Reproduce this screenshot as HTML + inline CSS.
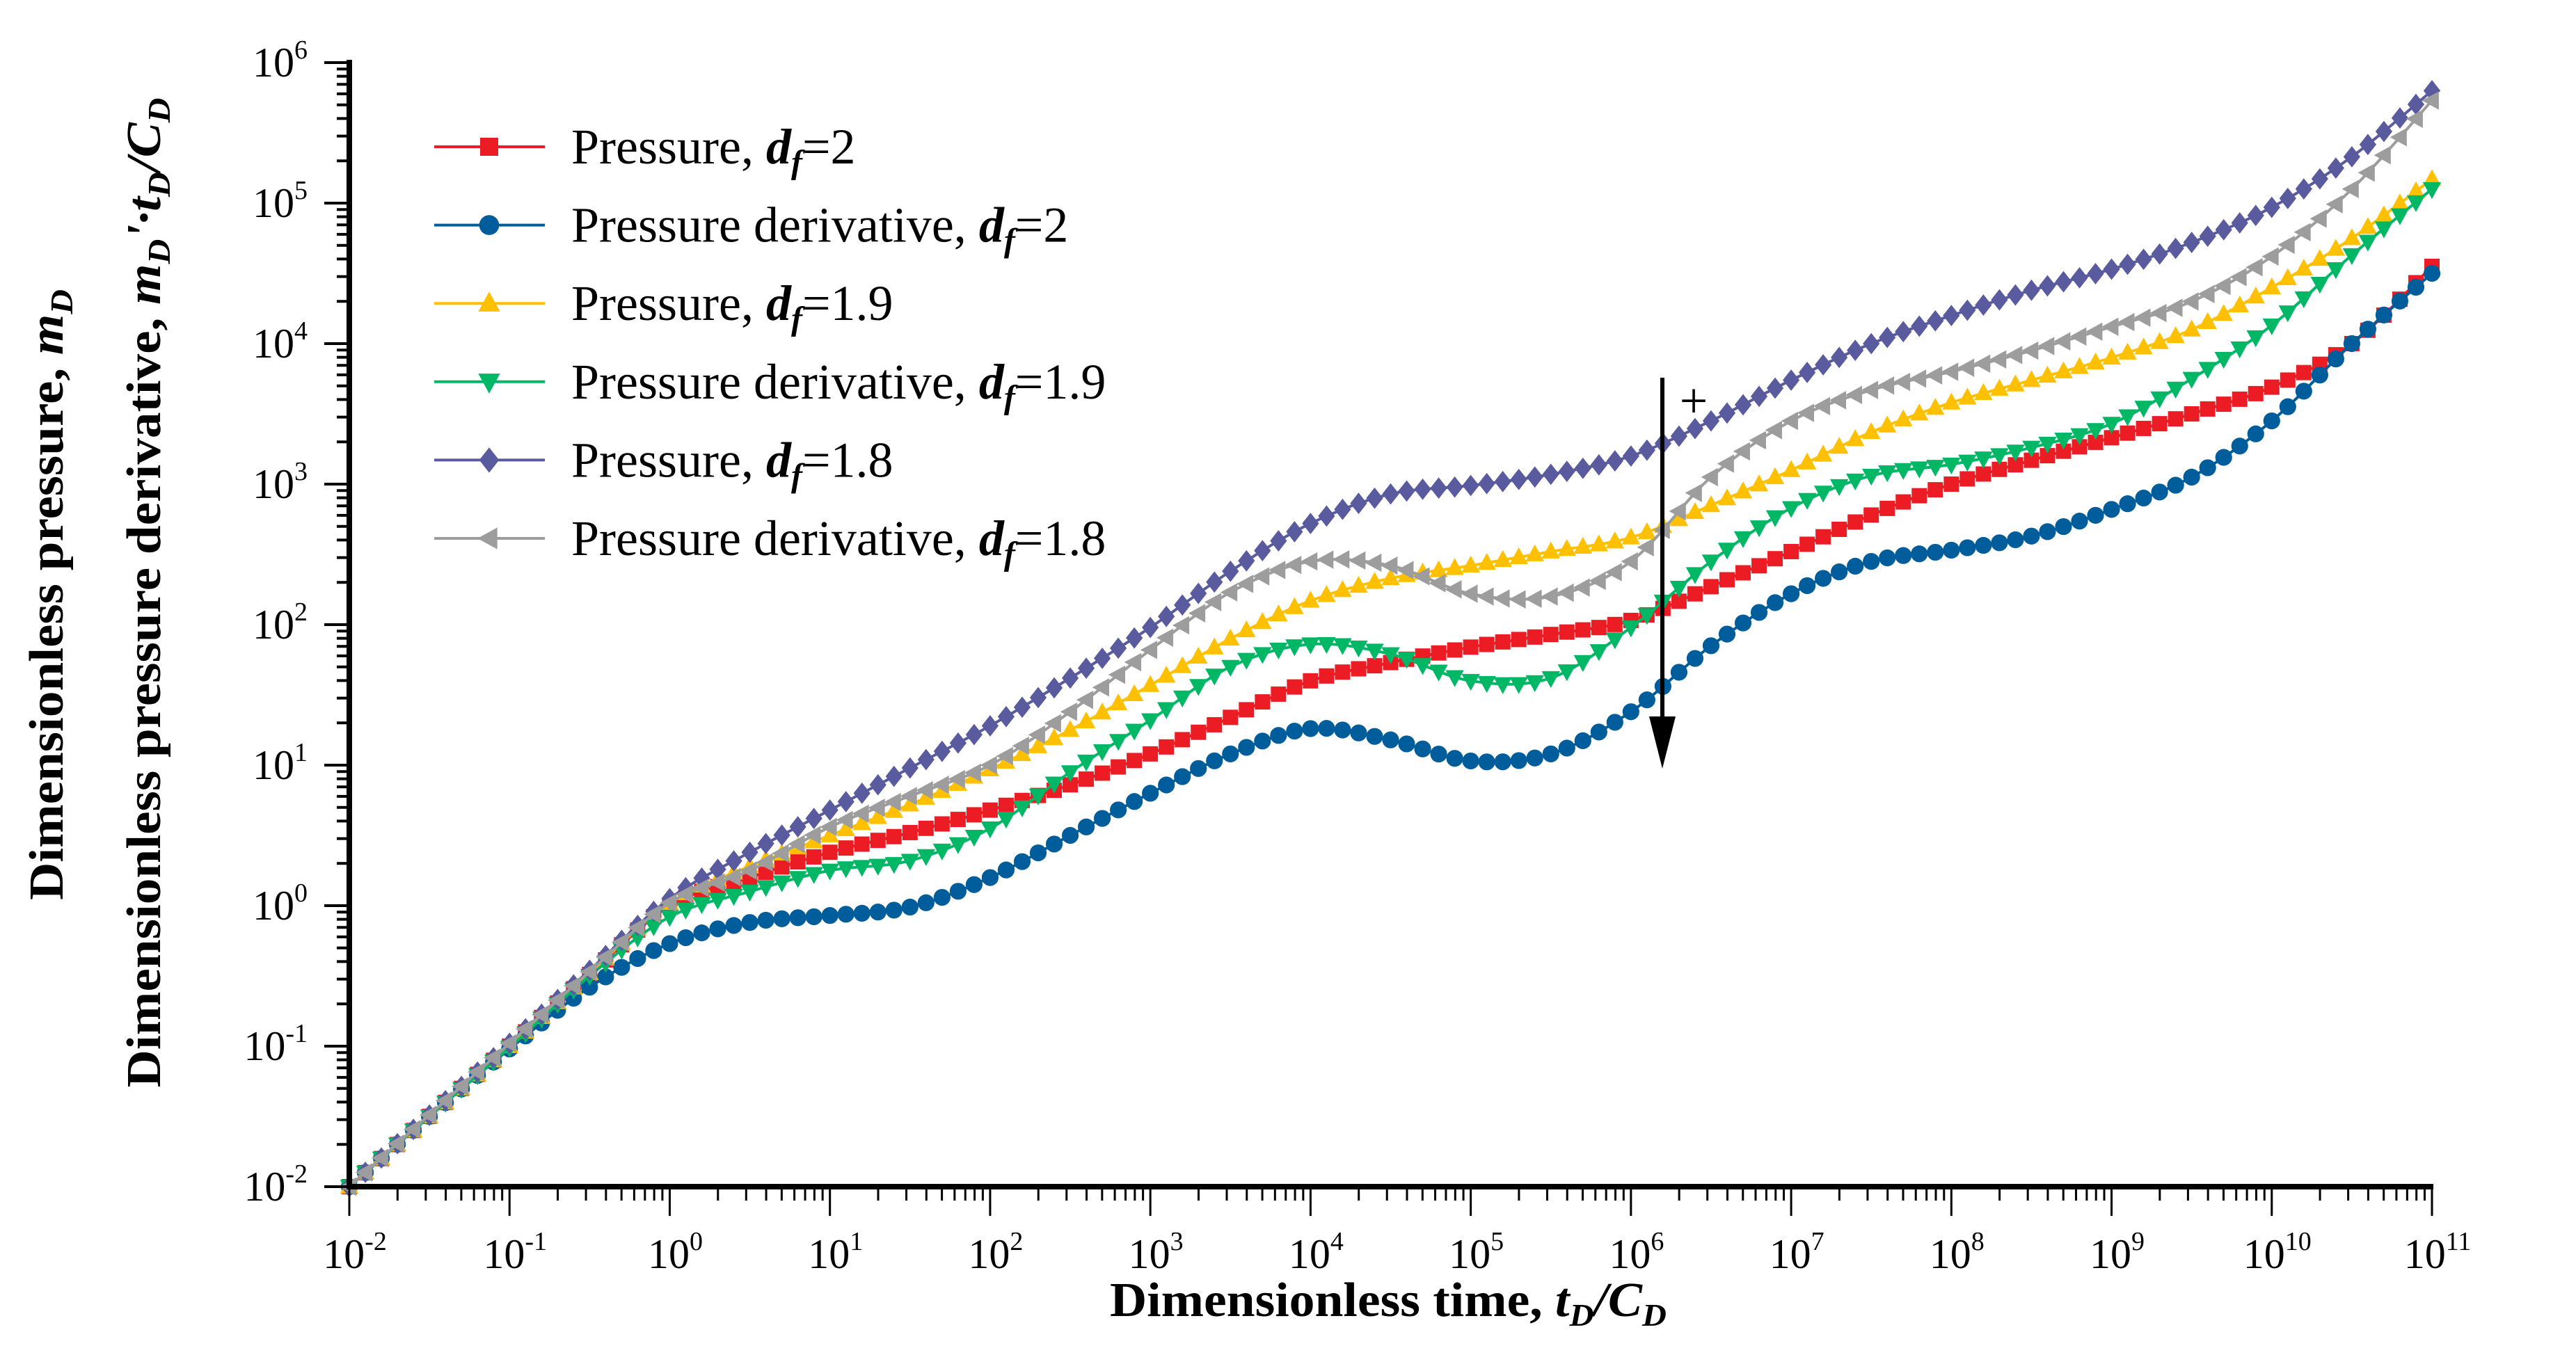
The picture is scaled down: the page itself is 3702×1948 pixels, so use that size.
<!DOCTYPE html>
<html><head><meta charset="utf-8"><style>
html,body{margin:0;padding:0;background:#fff;}
svg, svg text{font-family:"Liberation Serif","Times New Roman",serif;}
</style></head><body>
<svg id="chart" width="3702" height="1948" viewBox="0 0 3702 1948" xmlns="http://www.w3.org/2000/svg" font-family="Liberation Serif, serif" style="display:block">
<rect width="3702" height="1948" fill="#fff"/>
<g id="series"></g>
<g id="axes"></g>
<g id="legend"></g>
<text transform="translate(90,855) rotate(-90)" text-anchor="middle" font-size="70" font-weight="bold" textLength="878" lengthAdjust="spacingAndGlyphs">Dimensionless pressure, <tspan font-style="italic">m<tspan font-size="46" dy="14">D</tspan></tspan></text>
<text transform="translate(230,852) rotate(-90)" text-anchor="middle" font-size="70" font-weight="bold" textLength="1423" lengthAdjust="spacingAndGlyphs">Dimensionless pressure derivative, <tspan font-style="italic">m<tspan font-size="46" dy="14">D</tspan><tspan dy="-14">'·t</tspan><tspan font-size="46" dy="14">D</tspan><tspan dy="-14">/C</tspan><tspan font-size="46" dy="14">D</tspan></tspan></text>
<text x="1995" y="1892" text-anchor="middle" font-size="70" font-weight="bold" textLength="800" lengthAdjust="spacingAndGlyphs">Dimensionless time, <tspan font-style="italic">t<tspan font-size="46" dy="14">D</tspan><tspan dy="-14">/C</tspan><tspan font-size="46" dy="14">D</tspan></tspan></text>
<g>
<line x1="2389" y1="543" x2="2389" y2="1040" stroke="#000" stroke-width="6"/>
<polygon points="2370,1030 2408,1030 2389,1105" fill="#000"/>
<text x="2434" y="600" font-size="72" text-anchor="middle">+</text>
</g>
</svg>
<script>
const logT = [-2,-1.5,-1,-0.5,0,0.5,1,1.5,2,2.5,3,3.5,4,4.5,5,5.5,6,6.5,7,7.5,8,8.5,9,9.5,10,10.5,11];
const pressureDf2 = [-2,-1.5,-1,-0.49,0.0,0.2,0.38,0.52,0.68,0.86,1.08,1.34,1.6,1.73,1.84,1.93,2.03,2.27,2.52,2.78,3.0,3.17,3.33,3.5,3.69,4.0,4.55];
const derivDf2 = [-2,-1.5,-1.02,-0.58,-0.27,-0.12,-0.07,-0.01,0.2,0.5,0.8,1.08,1.26,1.18,1.03,1.08,1.38,1.85,2.22,2.45,2.53,2.63,2.82,3.05,3.45,4.0,4.5];
const pressureDf19 = [-2,-1.5,-1,-0.48,0.02,0.28,0.5,0.72,0.97,1.25,1.57,1.9,2.17,2.33,2.42,2.52,2.62,2.85,3.1,3.37,3.58,3.74,3.9,4.1,4.4,4.75,5.17];
const derivDf19 = [-2,-1.5,-1.01,-0.5,-0.08,0.1,0.25,0.32,0.55,0.95,1.32,1.7,1.86,1.79,1.6,1.62,1.98,2.45,2.83,3.06,3.14,3.26,3.43,3.75,4.13,4.63,5.1];
const pressureDf18 = [-2,-1.49,-0.98,-0.46,0.05,0.38,0.68,0.98,1.28,1.62,1.98,2.38,2.72,2.93,2.99,3.07,3.2,3.45,3.74,4.0,4.2,4.38,4.53,4.72,4.97,5.33,5.8];
const derivDf18 = [-2,-1.49,-0.98,-0.47,0.02,0.25,0.56,0.78,1.0,1.38,1.82,2.23,2.45,2.42,2.22,2.2,2.45,3.05,3.45,3.67,3.8,3.95,4.12,4.3,4.62,5.1,5.73];
const xTickExps = [-2,-1,0,1,2,3,4,5,6,7,8,9,10,11];
const yTickExps = [-2,-1,0,1,2,3,4,5,6];
const seriesLabels = ["Pressure, ","Pressure derivative, ","Pressure, ","Pressure derivative, ","Pressure, ","Pressure derivative, "];
const seriesDf = ["=2","=2","=1.9","=1.9","=1.8","=1.8"];

const NS="http://www.w3.org/2000/svg";
const X0=502,X1=3495,Y0=1706,Y1=90;
const xs=v=>X0+(v-(-2))*(X1-X0)/13;
const ys=v=>Y0-(v-(-2))*(Y0-Y1)/8;
function mk(tag,attrs,parent){const e=document.createElementNS(NS,tag);for(const k in attrs)e.setAttribute(k,attrs[k]);parent.appendChild(e);return e;}

const series=[
 {d:pressureDf2,c:"#ec1c24",m:"square",n:"pressure-df2"},
 {d:derivDf2,c:"#005d9b",m:"circle",n:"derivative-df2"},
 {d:pressureDf19,c:"#ffc000",m:"up",n:"pressure-df19"},
 {d:derivDf19,c:"#00b766",m:"down",n:"derivative-df19"},
 {d:pressureDf18,c:"#5a5b9f",m:"diamond",n:"pressure-df18"},
 {d:derivDf18,c:"#9d9d9d",m:"left",n:"derivative-df18"}
];
function marker(g,type,x,y,c,s){
 let e;
 if(type==="square") e=mk("rect",{x:x-s*0.5,y:y-s*0.5,width:s,height:s,fill:c},g);
 else if(type==="circle") e=mk("circle",{cx:x,cy:y,r:s*0.55,fill:c},g);
 else {
  let p;
  if(type==="up") p=[[0,-0.65],[0.6,0.45],[-0.6,0.45]];
  else if(type==="down") p=[[0,0.65],[0.6,-0.45],[-0.6,-0.45]];
  else if(type==="diamond") p=[[0,-0.7],[0.55,0],[0,0.7],[-0.55,0]];
  else p=[[-0.65,0],[0.45,-0.6],[0.45,0.6]];
  e=mk("polygon",{points:p.map(q=>(x+q[0]*s)+","+(y+q[1]*s)).join(" "),fill:c},g);
 }
 return e;
}
function catmull(pts){
 let d="M"+pts[0][0]+","+pts[0][1];
 for(let i=0;i<pts.length-1;i++){
  const p0=pts[Math.max(0,i-1)],p1=pts[i],p2=pts[i+1],p3=pts[Math.min(pts.length-1,i+2)];
  d+=" C"+(p1[0]+(p2[0]-p0[0])/6)+","+(p1[1]+(p2[1]-p0[1])/6)+" "+(p2[0]-(p3[0]-p1[0])/6)+","+(p2[1]-(p3[1]-p1[1])/6)+" "+p2[0]+","+p2[1];
 }
 return d;
}
const sl=document.getElementById("series");
series.forEach(s=>{
 const g=mk("g",{},sl);
 
 
 const pts=logT.map((t,i)=>[xs(t),ys(s.d[i])]);
 const path=mk("path",{d:catmull(pts),fill:"none",stroke:s.c,"stroke-width":4},g);
 
 
 const L=path.getTotalLength();
 const steps=2000; const samples=[];
 for(let k=0;k<=steps;k++){const p=path.getPointAtLength(L*k/steps);samples.push(p);}
 let j=0;
 for(let t=-2;t<=11.0001;t+=0.1){
  const xt=xs(t);
  while(j<samples.length-1&&samples[j+1].x<xt)j++;
  const a=samples[j],b=samples[Math.min(j+1,samples.length-1)];
  const f=b.x===a.x?0:(xt-a.x)/(b.x-a.x);
  const y=a.y+(b.y-a.y)*Math.max(0,Math.min(1,f));
  const m=marker(g,s.m,xt,y,s.c,22);
  
  
 }
});

const ax=document.getElementById("axes");
const yl=mk("line",{x1:X0,y1:Y1-4,x2:X0,y2:Y0+4,stroke:"#000","stroke-width":8},ax);


const xl=mk("line",{x1:X0-4,y1:Y0,x2:X1+2,y2:Y0,stroke:"#000","stroke-width":8},ax);


xTickExps.forEach((e,i)=>{
 const x=xs(e);
 const t=mk("line",{x1:x,y1:Y0,x2:x,y2:Y0+42,stroke:"#000","stroke-width":3},ax);
 
 
 if(i<xTickExps.length-1){for(let k=2;k<=9;k++){const xm=x+Math.log10(k)*(X1-X0)/13;mk("line",{x1:xm,y1:Y0,x2:xm,y2:Y0+20,stroke:"#000","stroke-width":3},ax);}}
 const lb=mk("text",{x:x+8,y:1823,"font-size":60,"text-anchor":"middle"},ax);
 
 
 lb.textContent="10";
 const sp=document.createElementNS(NS,"tspan");sp.setAttribute("font-size","38");sp.setAttribute("dy","-26");sp.textContent=String(e);lb.appendChild(sp);
});
yTickExps.forEach((e,i)=>{
 const y=ys(e);
 const t=mk("line",{x1:X0-36,y1:y,x2:X0,y2:y,stroke:"#000","stroke-width":4},ax);
 
 
 if(i<yTickExps.length-1){for(let k=2;k<=9;k++){const ym=y-Math.log10(k)*(Y0-Y1)/8;mk("line",{x1:X0-18,y1:ym,x2:X0,y2:ym,stroke:"#000","stroke-width":4},ax);}}
 const lb=mk("text",{x:442,y:y+20,"font-size":60,"text-anchor":"end"},ax);
 
 
 lb.textContent="10";
 const sp=document.createElementNS(NS,"tspan");sp.setAttribute("font-size","38");sp.setAttribute("dy","-26");sp.textContent=String(e);lb.appendChild(sp);
});

const lg=document.getElementById("legend");
series.forEach((s,i)=>{
 const y=211+i*112.6;
 const g=mk("g",{},lg);
 
 
 mk("line",{x1:624,y1:y,x2:783,y2:y,stroke:s.c,"stroke-width":4},g);
 marker(g,s.m,703,y,s.c,26);
 const tx=mk("text",{x:821,y:y+24,"font-size":72},g);
 tx.textContent=seriesLabels[i];
 const d=document.createElementNS(NS,"tspan");d.setAttribute("font-weight","bold");d.setAttribute("font-style","italic");d.textContent="d";tx.appendChild(d);
 const f=document.createElementNS(NS,"tspan");f.setAttribute("font-size","48");f.setAttribute("font-weight","bold");f.setAttribute("font-style","italic");f.setAttribute("dy","14");f.textContent="f";tx.appendChild(f);
 const v=document.createElementNS(NS,"tspan");v.setAttribute("dy","-14");v.textContent=seriesDf[i];tx.appendChild(v);
});
</script>
</body></html>
